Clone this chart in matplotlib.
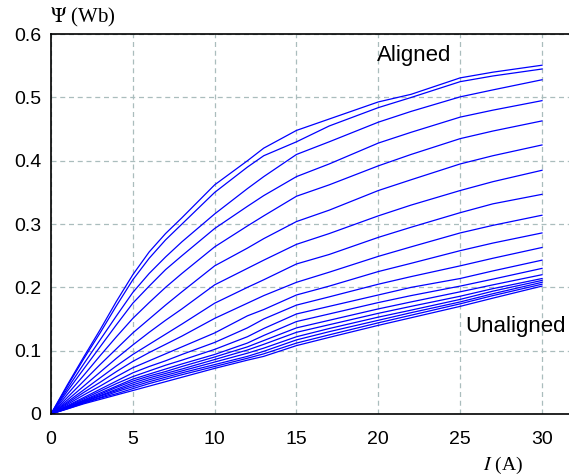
import numpy as np
import matplotlib
matplotlib.use('Agg')
import matplotlib.pyplot as plt

plt.rcParams['mathtext.fontset'] = 'stix'

# current samples (A)
current = [0, 1, 2, 3, 4, 5, 6, 7, 8, 10, 12, 13, 15, 17, 20, 22, 25, 27, 30]

# flux linkage curves (Wb), aligned (top) to unaligned (bottom)
psi_01 = [0, .046, .090, .133, .178, .220, .256, .285, .310, .362, .400, .420, .448, .466, .493, .505, .531, .540, .551]
psi_02 = [0, .044, .087, .128, .171, .212, .246, .275, .300, .350, .390, .408, .430, .455, .484, .500, .525, .534, .545]
psi_03 = [0, .040, .079, .117, .155, .192, .222, .248, .272, .316, .356, .375, .410, .430, .461, .478, .501, .512, .528]
psi_04 = [0, .036, .071, .106, .141, .175, .202, .228, .250, .293, .328, .345, .375, .395, .428, .445, .469, .480, .495]
psi_05 = [0, .031, .061, .092, .122, .151, .176, .200, .222, .264, .297, .313, .344, .362, .392, .410, .435, .447, .463]
psi_06 = [0, .026, .052, .078, .103, .128, .150, .172, .193, .234, .262, .277, .304, .322, .353, .370, .395, .408, .425]
psi_07 = [0, .022, .044, .066, .088, .109, .129, .148, .166, .204, .230, .243, .268, .285, .313, .330, .353, .367, .385]
psi_08 = [0, .019, .038, .057, .076, .094, .110, .126, .142, .175, .200, .212, .237, .252, .279, .295, .318, .332, .347]
psi_09 = [0, .017, .034, .050, .067, .083, .097, .110, .123, .151, .175, .187, .208, .224, .249, .264, .286, .298, .314]
psi_10 = [0, .015, .030, .044, .059, .073, .084, .095, .106, .128, .155, .165, .188, .202, .225, .238, .258, .270, .286]
psi_11 = [0, .013, .026, .039, .052, .065, .075, .084, .094, .113, .136, .150, .172, .185, .205, .217, .234, .246, .263]
psi_12 = [0, .012, .024, .036, .048, .059, .068, .077, .085, .102, .122, .135, .158, .170, .188, .200, .214, .226, .243]
psi_13 = [0, .011, .022, .033, .044, .055, .063, .071, .079, .094, .112, .124, .146, .158, .176, .187, .202, .213, .230]
psi_14 = [0, .011, .021, .031, .042, .052, .060, .067, .075, .090, .106, .116, .136, .148, .166, .177, .193, .204, .220]
psi_15 = [0, .010, .020, .029, .039, .049, .057, .064, .071, .086, .101, .110, .129, .141, .159, .170, .186, .198, .214]
psi_16 = [0, .009, .019, .028, .037, .046, .054, .061, .068, .082, .096, .104, .122, .135, .153, .164, .181, .194, .211]
psi_17 = [0, .009, .018, .026, .035, .043, .051, .058, .065, .078, .091, .099, .117, .130, .148, .160, .177, .190, .208]
psi_18 = [0, .008, .017, .025, .032, .040, .048, .055, .062, .075, .088, .095, .112, .125, .144, .156, .174, .187, .205]
psi_19 = [0, .008, .016, .023, .030, .037, .044, .051, .058, .072, .085, .091, .108, .121, .140, .152, .170, .183, .202]

curves = [psi_01, psi_02, psi_03, psi_04, psi_05, psi_06, psi_07, psi_08, psi_09, psi_10,
          psi_11, psi_12, psi_13, psi_14, psi_15, psi_16, psi_17, psi_18, psi_19]

xticks = [0, 5, 10, 15, 20, 25, 30]
yticks = [0, 0.1, 0.2, 0.3, 0.4, 0.5, 0.6]
ytick_labels = ['0', '0.1', '0.2', '0.3', '0.4', '0.5', '0.6']

fig = plt.figure(figsize=(5.69, 4.75), dpi=100)
ax = fig.add_axes([0.0896, 0.1285, 0.9104, 0.7995])

for psi in curves:
    ax.plot(current, psi, color='#0000ff', lw=0.9)

ax.set_xlim(0, 31.65)
ax.set_ylim(0, 0.6)
ax.set_xticks(xticks)
ax.set_yticks(yticks)
ax.set_yticklabels(ytick_labels)
ax.tick_params(length=0, labelsize=14)
ax.tick_params(axis='x', pad=12)
ax.tick_params(axis='y', pad=7)
for lab in ax.get_xticklabels() + ax.get_yticklabels():
    lab.set_family('Liberation Sans')

ax.grid(True, color='#aabdbd', ls=(0, (4, 3)), lw=0.9)
ax.spines['right'].set_visible(False)
for s in ['left', 'bottom', 'top']:
    ax.spines[s].set_linewidth(1.2)

ax.text(19.9, 0.566, 'Aligned', fontsize=16, family='Liberation Sans', va='center')
ax.text(25.3, 0.138, 'Unaligned', fontsize=16, family='Liberation Sans', va='center')

fig.text(50 / 569, 1 - 17 / 475, r'$\Psi$ (Wb)', fontsize=15, family='Liberation Serif', va='center')
fig.text(483 / 569, 1 - 465 / 475, r'$I$ (A)', fontsize=14, family='Liberation Serif', va='center')

fig.savefig('out.png', dpi=100)
